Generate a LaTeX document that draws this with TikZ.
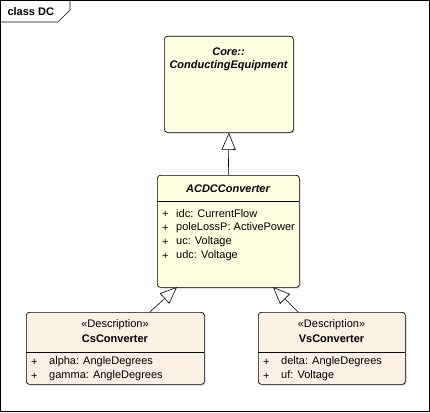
\documentclass[tikz,border=0pt]{standalone}
\usepackage{fontspec}
\setmainfont{Liberation Sans}
\usetikzlibrary{arrows.meta,shadows}
\definecolor{clsyellow}{HTML}{FFFFE1}
\definecolor{clsbeige}{HTML}{FBF0E4}
\begin{document}
\begin{tikzpicture}[x=1pt,y=-1pt,font=\fontsize{11}{13}\selectfont,
		cls/.style={draw,rounded corners=3pt,anchor=north west,inner sep=0pt,line width=0.7pt,
			drop shadow={shadow xshift=1.2pt,shadow yshift=-1.2pt,opacity=0.35}},
		attr/.style={anchor=west,inner sep=0pt},
		gen/.style={-{Triangle[open,length=17pt,width=14pt,fill=white]},line width=0.6pt}]
	\useasboundingbox (0,0) rectangle (430,412);
	% frame
	\draw[line width=0.6pt] (0.5,0.5) rectangle (429.5,411.5);
	\draw[line width=0.6pt] (0.5,22) -- (58,22) -- (70,10) -- (70,0.5);
	\node[anchor=west,font=\fontsize{11}{13}\selectfont\bfseries] (frame) at (4,11.5) {class DC};
	% classes
	\node[cls,fill=clsyellow,minimum width=129pt,minimum height=96pt] (core) at (164,36) {};
	\node[font=\fontsize{11}{13}\selectfont\bfseries\itshape] (core1) at (228.5,52) {Core::};
	\node[font=\fontsize{11}{13}\selectfont\bfseries\itshape] (core2) at (228.5,66) {ConductingEquipment};
	\node[cls,fill=clsyellow,minimum width=142pt,minimum height=112pt] (acdc) at (157,175) {};
	\node[font=\fontsize{11}{13}\selectfont\bfseries\itshape] (acdcname) at (228,189) {ACDCConverter};
	\draw[line width=0.6pt] (157,201) -- (299,201);
	\node[attr] (acdcp1) at (162,214) {+};
	\node[attr] (acdca1) at (176,214) {idc: CurrentFlow};
	\node[attr] (acdcp2) at (162,228) {+};
	\node[attr] (acdca2) at (176,228) {poleLossP: ActivePower};
	\node[attr] (acdcp3) at (162,242) {+};
	\node[attr] (acdca3) at (176,242) {uc: Voltage};
	\node[attr] (acdcp4) at (162,256) {+};
	\node[attr] (acdca4) at (176,256) {udc: Voltage};
	\node[cls,fill=clsbeige,minimum width=178pt,minimum height=72pt] (cs) at (26,312) {};
	\node (csst) at (115,325) {«Description»};
	\node[font=\fontsize{11}{13}\selectfont\bfseries] (csname) at (115,339) {CsConverter};
	\draw[line width=0.6pt] (26,352) -- (204,352);
	\node[attr] (csp1) at (31,362) {+};
	\node[attr] (csa1) at (49,362) {alpha: AngleDegrees};
	\node[attr] (csp2) at (31,376) {+};
	\node[attr] (csa2) at (49,376) {gamma: AngleDegrees};
	\node[cls,fill=clsbeige,minimum width=147pt,minimum height=72pt] (vs) at (258,312) {};
	\node (vsst) at (331.5,325) {«Description»};
	\node[font=\fontsize{11}{13}\selectfont\bfseries] (vsname) at (331.5,339) {VsConverter};
	\draw[line width=0.6pt] (258,352) -- (405,352);
	\node[attr] (vsp1) at (263,362) {+};
	\node[attr] (vsa1) at (281,362) {delta: AngleDegrees};
	\node[attr] (vsp2) at (263,376) {+};
	\node[attr] (vsa2) at (281,376) {uf: Voltage};
	% generalisations
	\coordinate (csgen) at (150,312);
	\coordinate (acdccs) at (177,287);
	\coordinate (vsgen) at (298,312);
	\coordinate (acdcvs) at (273,287);
	\draw[gen] (acdc.north) -- (core.south);
	\draw[gen] (csgen) -- (acdccs);
	\draw[gen] (vsgen) -- (acdcvs);
\end{tikzpicture}
\end{document}
